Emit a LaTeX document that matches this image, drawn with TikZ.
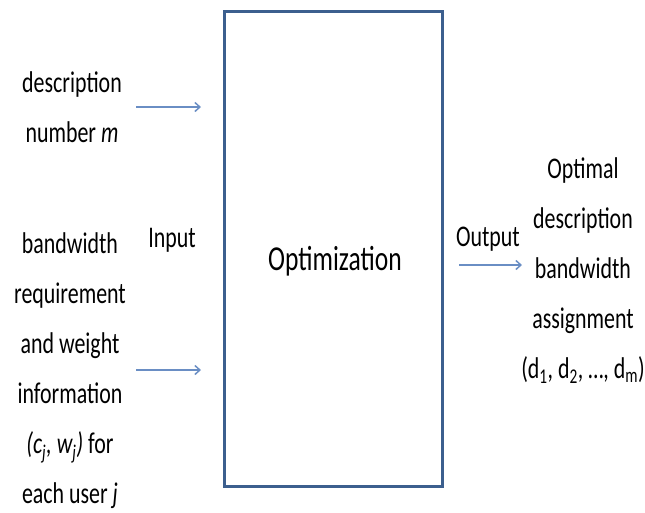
\documentclass[tikz,border=0pt]{standalone}
\usepackage{fontspec}
\setmainfont{Carlito}[FakeStretch=0.73]
\usetikzlibrary{arrows.meta}

\definecolor{boxblue}{HTML}{3C5F8E}
\definecolor{arrowblue}{HTML}{6A8EC4}

\begin{document}
\begin{tikzpicture}[x=1pt, y=-1pt,
  every node/.style={font=\fontsize{30}{50}\selectfont, align=center, inner sep=0pt},
  flow/.style={arrowblue, line width=1.5pt, -{Straight Barb[length=5pt,width=9pt]}}]
\useasboundingbox (0,0) rectangle (645,512);

% optimization block
\draw[boxblue, line width=3pt] (224,11) rectangle (442,486);
\node (opt) at (335,261) {\fontsize{35}{40}\selectfont Optimization};

% inputs
\node (descr) at (72,107) {description\\number \textit{m}};
\node (users) at (70,371) {bandwidth\\requirement\\and weight\\information\\\textit{(c\textsubscript{j}, w\textsubscript{j})} for\\each user \textit{j}};
\node (inlabel) at (172,240) {Input};

% output
\node (outlabel) at (488,239) {Output};
\node (result) at (583,271) {Optimal\\description\\bandwidth\\assignment\\(d\textsubscript{1}, d\textsubscript{2}, \dots, d\textsubscript{m})};

% arrows
\coordinate (a1) at (136,107);
\coordinate (b1) at (201,107);
\coordinate (a2) at (136,370);
\coordinate (b2) at (201,370);
\coordinate (a3) at (459,265);
\coordinate (b3) at (522,265);
\draw[flow] (a1) -- (b1);
\draw[flow] (a2) -- (b2);
\draw[flow] (a3) -- (b3);
\end{tikzpicture}
\end{document}
